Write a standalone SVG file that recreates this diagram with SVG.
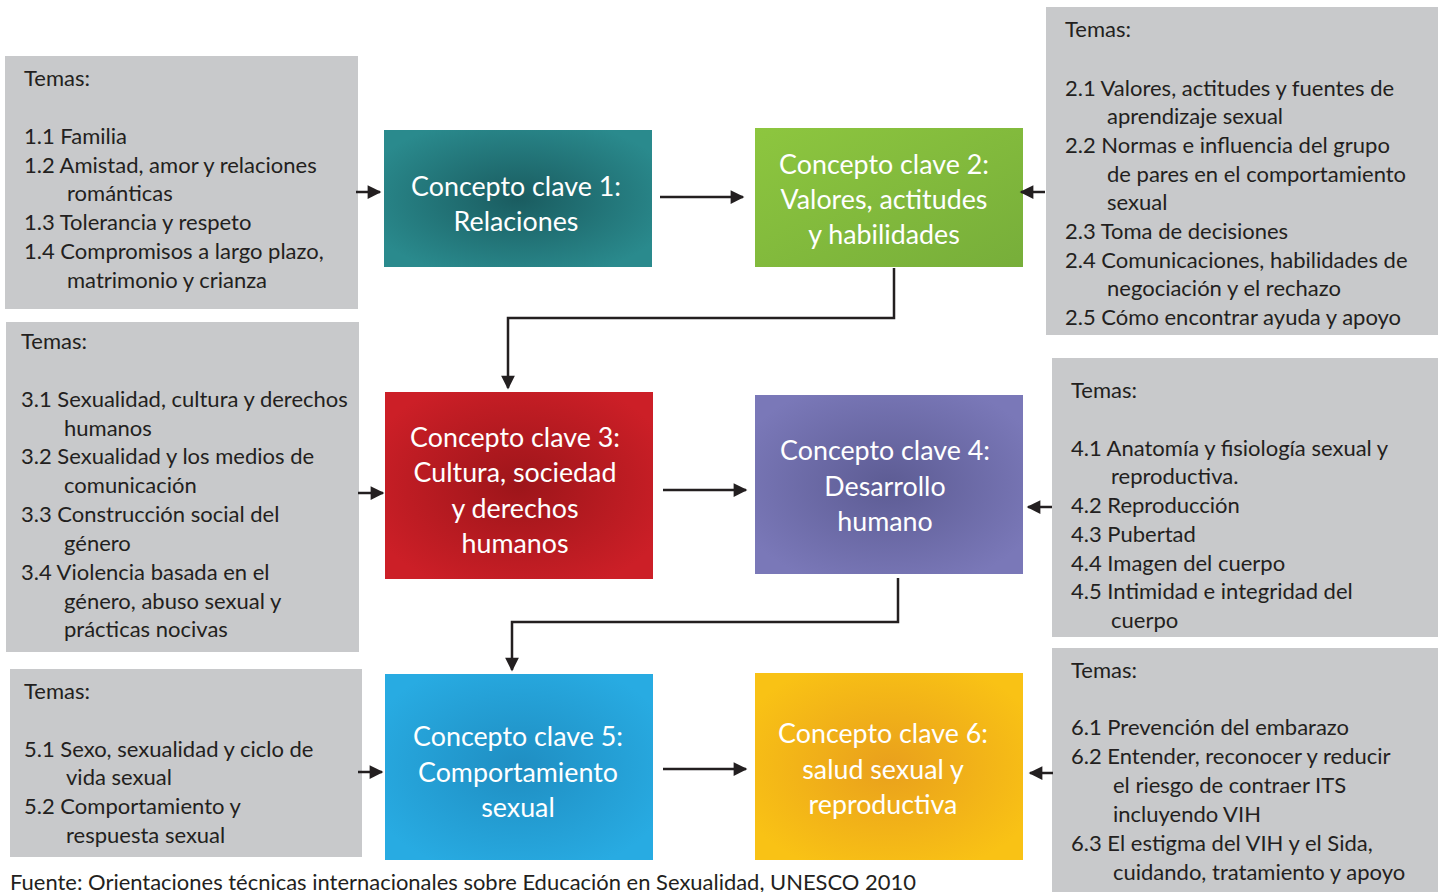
<svg xmlns="http://www.w3.org/2000/svg" width="1443" height="892" viewBox="0 0 1443 892">
<style>
.g{fill:#c8c9cb}
.t{font-family:Lato,"Open Sans","Liberation Sans",sans-serif;font-size:22px;fill:#231f20;dominant-baseline:central}
.c{font-family:Lato,"Open Sans","Liberation Sans",sans-serif;font-size:26.8px;fill:#ffffff;text-anchor:middle;dominant-baseline:central}
.ln{fill:none;stroke:#231f20;stroke-width:2.5}
</style>
<defs>
<marker id="ah" viewBox="0 0 10 10" refX="9" refY="5" markerWidth="6.5" markerHeight="5.5" markerUnits="strokeWidth" orient="auto">
<path d="M0,0 L10,5 L0,10 z" fill="#231f20"/>
</marker>
<radialGradient id="gTeal" cx="0.5" cy="0.5" r="0.6"><stop offset="0" stop-color="#1a5c60"/><stop offset="1" stop-color="#2a8a8d"/></radialGradient>
<linearGradient id="gGreen" x1="0" y1="0" x2="1" y2="1"><stop offset="0" stop-color="#8dc63f"/><stop offset="1" stop-color="#77ae3a"/></linearGradient>
<radialGradient id="gRed" cx="0.5" cy="0.5" r="0.6"><stop offset="0" stop-color="#9d151a"/><stop offset="1" stop-color="#cc1f27"/></radialGradient>
<radialGradient id="gPurple" cx="0.5" cy="0.5" r="0.6"><stop offset="0" stop-color="#5d5c94"/><stop offset="1" stop-color="#7a78b8"/></radialGradient>
<radialGradient id="gBlue" cx="0.5" cy="0.5" r="0.6"><stop offset="0" stop-color="#1f8ec2"/><stop offset="1" stop-color="#28abe2"/></radialGradient>
<radialGradient id="gYellow" cx="0.5" cy="0.5" r="0.6"><stop offset="0" stop-color="#e9a01c"/><stop offset="1" stop-color="#f9c215"/></radialGradient>
</defs>
<rect width="1443" height="892" fill="#ffffff"/>

<g id="temas1">
<rect class="g" x="5" y="56" width="353" height="253"/>
<text class="t" x="24" y="77">Temas:</text>
<text class="t" x="24" y="135">1.1 Familia</text>
<text class="t" x="24" y="164">1.2 Amistad, amor y relaciones</text>
<text class="t" x="67" y="192">románticas</text>
<text class="t" x="24" y="221">1.3 Tolerancia y respeto</text>
<text class="t" x="24" y="250">1.4 Compromisos a largo plazo,</text>
<text class="t" x="67" y="279">matrimonio y crianza</text>
</g>

<g id="temas2">
<rect class="g" x="1046" y="7" width="392" height="328"/>
<text class="t" x="1065" y="28">Temas:</text>
<text class="t" x="1065" y="87">2.1 Valores, actitudes y fuentes de</text>
<text class="t" x="1107" y="115">aprendizaje sexual</text>
<text class="t" x="1065" y="144">2.2 Normas e influencia del grupo</text>
<text class="t" x="1107" y="173">de pares en el comportamiento</text>
<text class="t" x="1107" y="201">sexual</text>
<text class="t" x="1065" y="230">2.3 Toma de decisiones</text>
<text class="t" x="1065" y="259">2.4 Comunicaciones, habilidades de</text>
<text class="t" x="1107" y="287">negociación y el rechazo</text>
<text class="t" x="1065" y="316">2.5 Cómo encontrar ayuda y apoyo</text>
</g>

<g id="temas3">
<rect class="g" x="6" y="322" width="353" height="330"/>
<text class="t" x="21" y="340">Temas:</text>
<text class="t" x="21" y="398">3.1 Sexualidad, cultura y derechos</text>
<text class="t" x="64" y="427">humanos</text>
<text class="t" x="21" y="455">3.2 Sexualidad y los medios de</text>
<text class="t" x="64" y="484">comunicación</text>
<text class="t" x="21" y="513">3.3  Construcción social del</text>
<text class="t" x="64" y="542">género</text>
<text class="t" x="21" y="571">3.4  Violencia basada en el</text>
<text class="t" x="64" y="600">género, abuso sexual y</text>
<text class="t" x="64" y="628">prácticas nocivas</text>
</g>

<g id="temas4">
<rect class="g" x="1052" y="358" width="386" height="279"/>
<text class="t" x="1071" y="389">Temas:</text>
<text class="t" x="1071" y="447">4.1 Anatomía y fisiología sexual y</text>
<text class="t" x="1111" y="475">reproductiva.</text>
<text class="t" x="1071" y="504">4.2 Reproducción</text>
<text class="t" x="1071" y="533">4.3 Pubertad</text>
<text class="t" x="1071" y="562">4.4 Imagen del cuerpo</text>
<text class="t" x="1071" y="590">4.5 Intimidad e integridad del</text>
<text class="t" x="1111" y="619">cuerpo</text>
</g>

<g id="temas5">
<rect class="g" x="10" y="669" width="352" height="188"/>
<text class="t" x="24" y="690">Temas:</text>
<text class="t" x="24" y="748">5.1 Sexo, sexualidad y ciclo de</text>
<text class="t" x="66" y="776">vida sexual</text>
<text class="t" x="24" y="805">5.2 Comportamiento y</text>
<text class="t" x="66" y="834">respuesta sexual</text>
</g>

<g id="temas6">
<rect class="g" x="1052" y="648" width="386" height="244"/>
<text class="t" x="1071" y="669">Temas:</text>
<text class="t" x="1071" y="726">6.1 Prevención del embarazo</text>
<text class="t" x="1071" y="755">6.2 Entender, reconocer y reducir</text>
<text class="t" x="1113" y="784">el riesgo de contraer ITS</text>
<text class="t" x="1113" y="813">incluyendo VIH</text>
<text class="t" x="1071" y="842">6.3 El estigma del VIH y el Sida,</text>
<text class="t" x="1113" y="871">cuidando, tratamiento y apoyo</text>
</g>

<g id="concepto1">
<rect x="384" y="130" width="268" height="137" fill="url(#gTeal)"/>
<text class="c" x="516" y="186">Concepto clave 1:</text>
<text class="c" x="516" y="221">Relaciones</text>
</g>

<g id="concepto2">
<rect x="755" y="128" width="268" height="139" fill="url(#gGreen)"/>
<text class="c" x="884" y="164">Concepto clave 2:</text>
<text class="c" x="884" y="199">Valores, actitudes</text>
<text class="c" x="884" y="234">y habilidades</text>
</g>

<g id="concepto3">
<rect x="385" y="392" width="268" height="187" fill="url(#gRed)"/>
<text class="c" x="515" y="437">Concepto clave 3:</text>
<text class="c" x="515" y="472">Cultura, sociedad</text>
<text class="c" x="515" y="508">y derechos</text>
<text class="c" x="515" y="543">humanos</text>
</g>

<g id="concepto4">
<rect x="755" y="395" width="268" height="179" fill="url(#gPurple)"/>
<text class="c" x="885" y="450">Concepto clave 4:</text>
<text class="c" x="885" y="486">Desarrollo</text>
<text class="c" x="885" y="521">humano</text>
</g>

<g id="concepto5">
<rect x="385" y="674" width="268" height="186" fill="url(#gBlue)"/>
<text class="c" x="518" y="736">Concepto clave 5:</text>
<text class="c" x="518" y="772">Comportamiento</text>
<text class="c" x="518" y="807">sexual</text>
</g>

<g id="concepto6">
<rect x="755" y="673" width="268" height="187" fill="url(#gYellow)"/>
<text class="c" x="883" y="733">Concepto clave 6:</text>
<text class="c" x="883" y="769">salud sexual y</text>
<text class="c" x="883" y="804">reproductiva</text>
</g>

<g id="connectors">
<path class="ln" d="M356,192 H380" marker-end="url(#ah)"/>
<path class="ln" d="M660,197 H743" marker-end="url(#ah)"/>
<path class="ln" d="M1045,192 H1021" marker-end="url(#ah)"/>
<path class="ln" d="M894,268 V318 H508 V388" marker-end="url(#ah)"/>
<path class="ln" d="M358,493 H383" marker-end="url(#ah)"/>
<path class="ln" d="M663,490 H746" marker-end="url(#ah)"/>
<path class="ln" d="M1052,507 H1028" marker-end="url(#ah)"/>
<path class="ln" d="M898,578 V622 H512 V670" marker-end="url(#ah)"/>
<path class="ln" d="M358,772 H382" marker-end="url(#ah)"/>
<path class="ln" d="M663,769 H746" marker-end="url(#ah)"/>
<path class="ln" d="M1053,773 H1030" marker-end="url(#ah)"/>
</g>

<text class="t" x="10" y="881" textLength="906" lengthAdjust="spacingAndGlyphs">Fuente: Orientaciones técnicas internacionales sobre Educación en Sexualidad, UNESCO 2010</text>
</svg>
